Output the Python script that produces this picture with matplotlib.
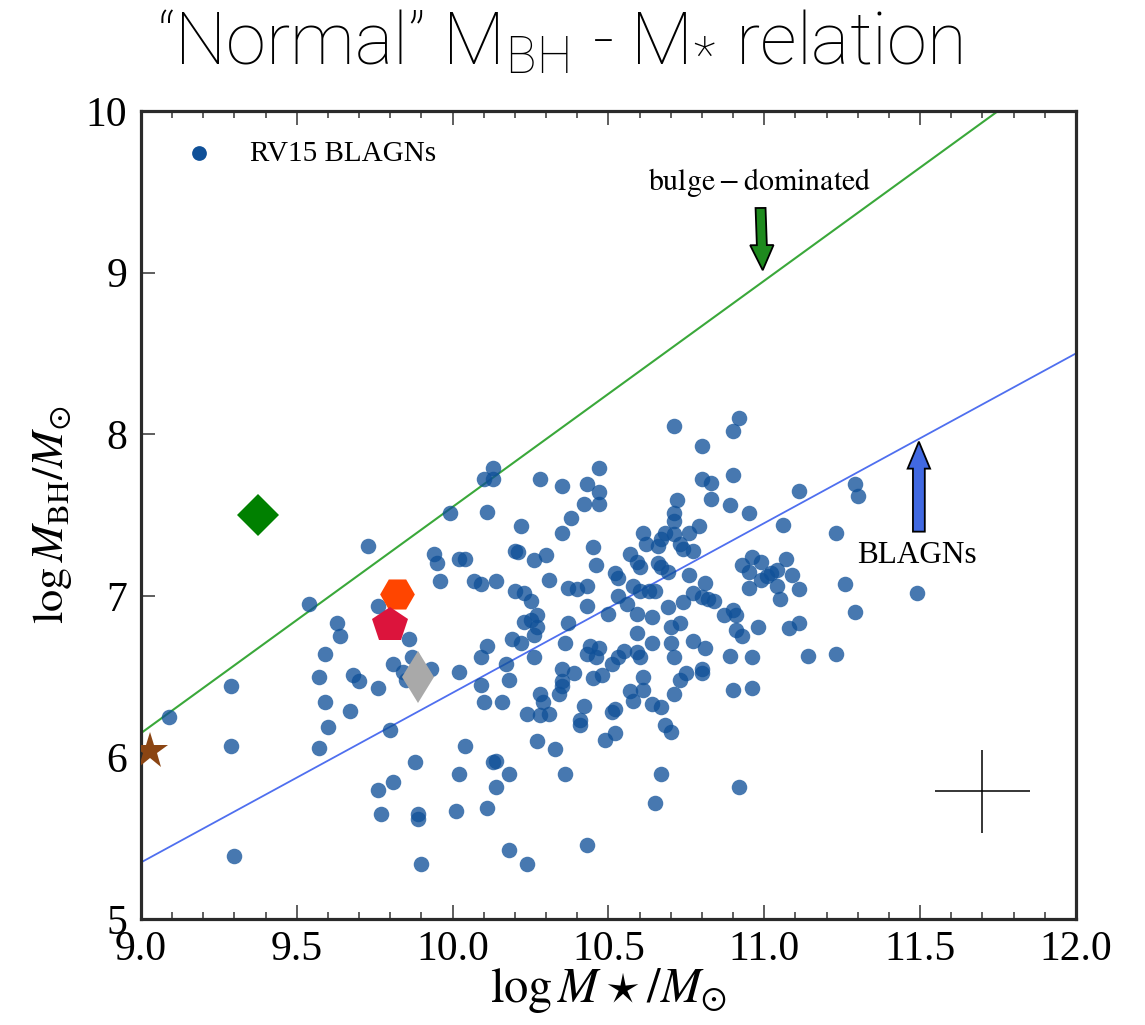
import numpy as np
import matplotlib
matplotlib.use("Agg")
import matplotlib.pyplot as plt

plt.rcParams['font.family'] = ['Liberation Serif', 'DejaVu Serif']
plt.rcParams['mathtext.fontset'] = 'stix'

# RV15 broad-line AGN sample: log M_star, log M_BH
logMstar = [
    9.99, 9.73, 9.94, 9.95, 10.02, 9.96, 9.54, 9.76, 9.63, 9.64,
    9.86, 9.59, 9.87, 9.81, 9.93, 9.84, 9.85, 9.57, 9.68, 9.70,
    9.29, 9.76, 10.02, 9.59, 9.67, 9.09, 9.60, 9.80, 9.29, 9.57,
    10.04, 9.88, 10.02, 9.81, 9.76, 9.77, 9.89, 9.89, 10.01, 9.30,
    9.90, 10.71, 10.92, 10.90, 10.80, 10.47, 10.13, 10.10, 10.13, 10.28,
    10.35, 10.43, 10.47, 10.42, 10.47, 10.80, 10.83, 10.90, 10.83, 10.72,
    10.89, 10.95, 10.11, 10.38, 10.71, 10.71, 10.22, 10.35, 10.79, 10.61,
    10.68, 10.71, 10.76, 10.67, 10.62, 10.66, 10.73, 10.74, 10.77, 10.45,
    10.20, 10.21, 10.04, 10.30, 10.26, 10.57, 10.59, 10.60, 10.46, 10.66,
    10.67, 10.69, 10.96, 10.93, 10.95, 10.99, 10.07, 10.09, 10.14, 10.31,
    10.52, 10.53, 10.76, 10.37, 10.40, 10.43, 10.20, 10.23, 10.25, 10.53,
    10.58, 10.60, 10.63, 10.65, 10.56, 10.43, 10.81, 10.77, 10.80, 10.82,
    10.84, 10.74, 10.69, 10.95, 10.99, 10.98, 10.90, 10.87, 10.91, 10.91,
    10.93, 10.50, 10.59, 10.64, 10.70, 10.73, 10.59, 10.64, 10.70, 10.77,
    10.81, 10.89, 10.96, 10.23, 10.25, 10.27, 10.27, 10.26, 10.37, 10.19,
    10.22, 10.36, 10.11, 10.09, 10.44, 10.47, 10.43, 10.55, 10.53, 10.59,
    10.60, 10.71, 10.26, 10.46, 10.17, 10.09, 10.18, 10.35, 10.39, 10.35,
    10.35, 10.34, 10.28, 10.29, 10.10, 10.16, 10.51, 10.48, 10.45, 10.61,
    10.61, 10.57, 10.58, 10.75, 10.73, 10.80, 10.80, 10.71, 10.90, 10.96,
    10.42, 10.24, 10.28, 10.31, 10.51, 10.52, 10.64, 10.67, 10.41, 10.41,
    10.68, 10.70, 10.52, 10.49, 10.27, 10.33, 10.14, 10.13, 10.18, 10.36,
    10.67, 10.14, 10.92, 10.65, 10.11, 10.43, 10.18, 10.24, 11.11, 11.29,
    11.30, 11.06, 11.23, 11.07, 11.04, 11.02, 11.01, 11.09, 11.04, 11.11,
    11.26, 11.05, 11.49, 11.29, 11.08, 11.11, 11.14, 11.23,
]
logMBH = [
    7.51, 7.31, 7.26, 7.20, 7.23, 7.09, 6.95, 6.94, 6.83, 6.75,
    6.73, 6.64, 6.62, 6.58, 6.55, 6.53, 6.48, 6.50, 6.51, 6.47,
    6.44, 6.43, 6.53, 6.34, 6.29, 6.25, 6.19, 6.17, 6.07, 6.06,
    6.07, 5.97, 5.90, 5.85, 5.80, 5.65, 5.65, 5.62, 5.67, 5.39,
    5.34, 8.05, 8.10, 8.02, 7.93, 7.79, 7.79, 7.72, 7.72, 7.72,
    7.68, 7.69, 7.64, 7.57, 7.57, 7.72, 7.70, 7.75, 7.60, 7.59,
    7.56, 7.51, 7.52, 7.48, 7.51, 7.46, 7.43, 7.39, 7.43, 7.39,
    7.39, 7.38, 7.39, 7.35, 7.32, 7.31, 7.32, 7.29, 7.28, 7.30,
    7.28, 7.27, 7.23, 7.25, 7.22, 7.26, 7.21, 7.18, 7.19, 7.20,
    7.18, 7.15, 7.24, 7.19, 7.15, 7.21, 7.09, 7.07, 7.09, 7.10,
    7.14, 7.11, 7.13, 7.05, 7.04, 7.06, 7.03, 7.02, 6.97, 7.00,
    7.06, 7.03, 7.03, 7.03, 6.95, 6.94, 7.08, 7.02, 6.99, 6.98,
    6.97, 6.96, 6.93, 7.05, 7.10, 6.81, 6.91, 6.88, 6.88, 6.79,
    6.75, 6.89, 6.89, 6.87, 6.81, 6.83, 6.77, 6.71, 6.71, 6.72,
    6.68, 6.63, 6.62, 6.84, 6.85, 6.88, 6.81, 6.76, 6.83, 6.73,
    6.71, 6.71, 6.69, 6.62, 6.69, 6.68, 6.64, 6.66, 6.62, 6.65,
    6.62, 6.62, 6.62, 6.62, 6.58, 6.45, 6.48, 6.55, 6.52, 6.47,
    6.44, 6.39, 6.39, 6.34, 6.34, 6.34, 6.58, 6.51, 6.49, 6.50,
    6.42, 6.41, 6.35, 6.52, 6.48, 6.55, 6.52, 6.39, 6.42, 6.43,
    6.32, 6.27, 6.26, 6.27, 6.28, 6.30, 6.33, 6.31, 6.23, 6.20,
    6.20, 6.16, 6.15, 6.11, 6.10, 6.05, 5.98, 5.97, 5.90, 5.90,
    5.90, 5.82, 5.82, 5.72, 5.69, 5.46, 5.43, 5.34, 7.65, 7.69,
    7.62, 7.44, 7.39, 7.23, 7.16, 7.14, 7.12, 7.13, 7.06, 7.04,
    7.07, 6.98, 7.02, 6.90, 6.80, 6.83, 6.63, 6.64,
]

# individual objects
obj_x = [9.375, 9.82, 9.80, 9.89, 9.03]
obj_y = [7.50, 7.01, 6.82, 6.50, 6.04]
obj_marker = ['D', 'H', 'p', 'd', '*']
obj_color = ['green', 'orangered', 'crimson', 'darkgray', 'saddlebrown']
obj_size = [21.5, 25, 26.5, 26.5, 28]

# scaling relations: logMBH = a + b*(logM* - 11)
bulge_a, bulge_b = 8.95, 1.40
agn_a, agn_b = 7.45, 1.05

# typical uncertainty
err_x, err_y = 11.70, 5.79
err_dx, err_dy = 0.153, 0.255

fig = plt.figure(figsize=(11.45, 10.25), dpi=100)
ax = fig.add_axes([0.1231, 0.1034, 0.8166, 0.7883])

xx = np.linspace(9.0, 12.0, 50)
ax.plot(xx, bulge_a + bulge_b*(xx - 11), color='#3aa83a', lw=1.5, zorder=2)
ax.plot(xx, agn_a + agn_b*(xx - 11), color='#4f6fef', lw=1.3, zorder=2)

ax.scatter(logMstar, logMBH, s=125, color='#0f5098', alpha=0.77, linewidths=0,
           zorder=3, label='RV15 BLAGNs')

for i in range(len(obj_x)):
    ax.plot(obj_x[i], obj_y[i], marker=obj_marker[i], color=obj_color[i],
            ms=obj_size[i], mew=0, ls='', zorder=4)

ax.errorbar(err_x, err_y, xerr=err_dx, yerr=err_dy, fmt='none', ecolor='k',
            elinewidth=1.1, capsize=0, zorder=4)

# arrows + labels
ax.arrow(10.988, 9.40, 0.007, -0.385, width=0.032, head_width=0.075,
         head_length=0.155, length_includes_head=True, fc='#1e8a1e', ec='k',
         lw=1.3, zorder=5)
ax.text(10.985, 9.555, r'$\mathrm{bulge-dominated}$', fontsize=21.5,
        ha='center', va='center')
ax.arrow(11.496, 7.397, 0, 0.557, width=0.038, head_width=0.072,
         head_length=0.167, length_includes_head=True, fc='#4169e1', ec='k',
         lw=1.3, zorder=5)
ax.text(11.49, 7.25, 'BLAGNs', fontsize=22.5, ha='center', va='center')

ax.set_xlim(9.0, 12.0)
ax.set_ylim(5, 10)
ax.set_xticks([9.0, 9.5, 10.0, 10.5, 11.0, 11.5, 12.0])
ax.set_xticklabels(['9.0', '9.5', '10.0', '10.5', '11.0', '11.5', '12.0'])
ax.set_xticks(np.arange(9.0, 12.01, 0.1), minor=True)
ax.set_yticks([5, 6, 7, 8, 9, 10])
ax.tick_params(axis='both', which='major', direction='in', length=10,
               width=1.1, labelsize=30, top=True, right=False, color='#333333')
ax.tick_params(axis='x', which='major', pad=8)
ax.tick_params(axis='y', which='major', pad=10)
ax.tick_params(axis='x', which='minor', direction='in', length=5, width=1.1,
               top=True, color='#333333')
for sp in ax.spines.values():
    sp.set_linewidth(2.3)
    sp.set_color('#2a2a2a')

ax.set_xlabel(r'$\log M\star/M_{\odot}$', fontsize=35, labelpad=-2)
ax.set_ylabel(r'$\log M_{\rm BH}/M_{\odot}$', fontsize=32, labelpad=8)

leg = ax.legend(loc='upper left', frameon=False, fontsize=21, scatterpoints=1,
                handletextpad=0.75, borderaxespad=0.6, markerscale=0.95)
for h in leg.legend_handles:
    h.set_alpha(1)

fig.text(0.489, 0.956, '“Normal” M$_\\mathregular{BH}$ - M$_\\mathregular{*}$ relation',
         family=['Roboto', 'DejaVu Sans'], weight='light', fontsize=52,
         ha='center', va='center')

fig.savefig('out.png', dpi=100)
